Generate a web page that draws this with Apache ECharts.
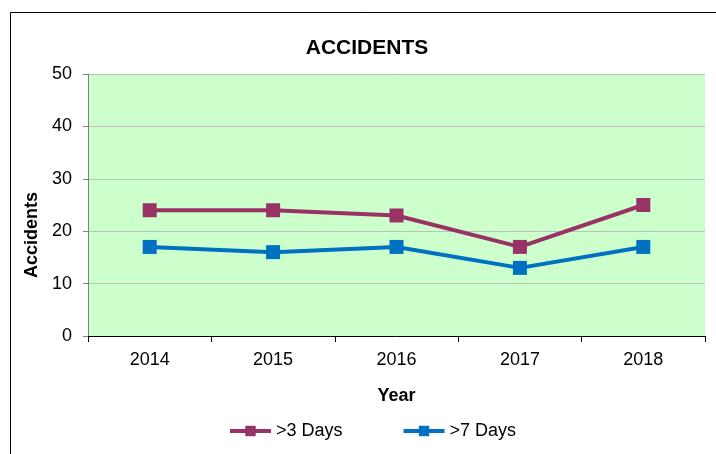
<!DOCTYPE html>
<html>
<head>
<meta charset="utf-8">
<script src="https://cdn.jsdelivr.net/npm/echarts@6/dist/echarts.min.js"></script>
<style>
  html, body { margin: 0; padding: 0; background: #fff; }
  #chart { width: 716px; height: 454px; }
</style>
</head>
<body>
<div id="chart"></div>
<script>
  var years = ['2014', '2015', '2016', '2017', '2018'];
  var over3Days = [24, 24, 23, 17, 25];
  var over7Days = [17, 16, 17, 13, 17];

  var myChart = echarts.init(document.getElementById('chart'));
  var option = {
    backgroundColor: '#fff',
    animation: false,
    textStyle: { fontFamily: 'Liberation Sans, Arial, sans-serif', color: '#000' },
    graphic: [{
      type: 'rect',
      shape: { x: 10.5, y: 12.5, width: 720, height: 460 },
      style: { fill: 'none', stroke: '#000', lineWidth: 1 },
      z: -1
    }],
    title: {
      text: 'ACCIDENTS',
      left: 362,
      textAlign: 'center',
      top: 33,
      textStyle: { fontSize: 21, fontWeight: 'bold', color: '#000' }
    },
    grid: {
      left: 88, right: 11, top: 74, bottom: 118,
      show: true, backgroundColor: '#ccffcc', borderWidth: 0
    },
    legend: {
      bottom: 9,
      left: 223,
      itemGap: 59,
      itemWidth: 41,
      itemHeight: 13,
      lineStyle: { width: 4 },
      textStyle: { fontSize: 18, color: '#000' },
      data: ['>3 Days', '>7 Days']
    },
    xAxis: {
      type: 'category',
      data: years,
      name: 'Year',
      nameLocation: 'middle',
      nameGap: 51,
      nameTextStyle: { fontSize: 18, fontWeight: 'bold', color: '#000' },
      axisLine: { lineStyle: { color: '#000', width: 1 } },
      axisTick: { show: true, alignWithLabel: false, length: 6, lineStyle: { color: '#000' } },
      axisLabel: { fontSize: 18, color: '#000', margin: 15 }
    },
    yAxis: {
      type: 'value',
      min: 0, max: 50, interval: 10,
      name: 'Accidents',
      nameLocation: 'middle',
      nameGap: 46,
      nameTextStyle: { fontSize: 18, fontWeight: 'bold', color: '#000', padding: [0, 60, 0, 0] },
      axisLine: { show: true, lineStyle: { color: '#808080' } },
      axisTick: { show: true, inside: false, length: 5, lineStyle: { color: '#808080' } },
      axisLabel: { fontSize: 18, color: '#000', margin: 16 },
      splitLine: { lineStyle: { color: '#bfbfbf', width: 1 } }
    },
    series: [{
      name: '>3 Days',
      type: 'line',
      data: over3Days,
      symbol: 'rect',
      symbolSize: 14,
      lineStyle: { color: '#993366', width: 4 },
      itemStyle: { color: '#993366' }
    }, {
      name: '>7 Days',
      type: 'line',
      data: over7Days,
      symbol: 'rect',
      symbolSize: 14,
      lineStyle: { color: '#0070c0', width: 4 },
      itemStyle: { color: '#0070c0' }
    }]
  };
  myChart.setOption(option);
</script>
</body>
</html>
